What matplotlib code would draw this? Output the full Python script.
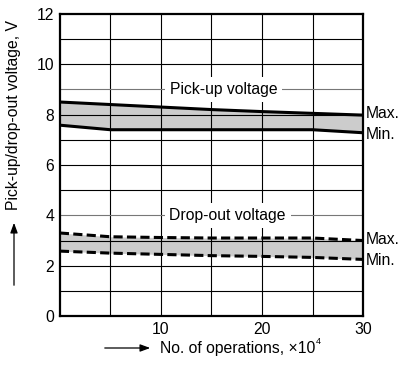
import matplotlib
matplotlib.use("Agg")
import matplotlib.pyplot as plt

plt.rcParams['font.family'] = ['Liberation Sans', 'DejaVu Sans']

ops = [0, 5, 10, 15, 20, 25, 30]
pick_max = [8.5, 8.4, 8.3, 8.2, 8.12, 8.05, 7.98]
pick_min = [7.58, 7.4, 7.4, 7.4, 7.4, 7.4, 7.28]
drop_max = [3.3, 3.15, 3.12, 3.1, 3.1, 3.1, 3.0]
drop_min = [2.58, 2.5, 2.45, 2.4, 2.37, 2.33, 2.25]
xticks = [10, 20, 30]
yticks = [0, 2, 4, 6, 8, 10, 12]

FS = 11.3

fig = plt.figure(figsize=(3.99, 3.65), dpi=100)
ax = fig.add_axes([0.150, 0.134, 0.760, 0.828])
ax.set_xlim(0, 30)
ax.set_ylim(0, 12)

# grid
for gx in range(5, 30, 5):
    ax.axvline(gx, color='black', lw=0.8, zorder=2)
for gy in range(1, 12):
    c = '#777777' if gy in (4, 9) else 'black'
    ax.axhline(gy, color=c, lw=0.8, zorder=2)

ax.fill_between(ops, pick_min, pick_max, color='#cccccc', zorder=1, lw=0)
ax.fill_between(ops, drop_min, drop_max, color='#cccccc', zorder=1, lw=0)
ax.plot(ops, pick_max, color='black', lw=2.2, zorder=3, solid_capstyle='butt')
ax.plot(ops, pick_min, color='black', lw=2.2, zorder=3, solid_capstyle='butt')
ax.plot(ops, drop_max, color='black', lw=2.2, ls=(0, (3.0, 1.4)), zorder=3)
ax.plot(ops, drop_min, color='black', lw=2.2, ls=(0, (3.0, 1.4)), zorder=3)

ax.text(16.2, 9, 'Pick-up voltage', ha='center', va='center', fontsize=FS,
        zorder=4, bbox=dict(facecolor='white', edgecolor='none', pad=3.5))
ax.text(16.6, 4, 'Drop-out voltage', ha='center', va='center', fontsize=FS,
        zorder=4, bbox=dict(facecolor='white', edgecolor='none', pad=3.5))

for y, s in [(pick_max[-1] + 0.05, 'Max.'), (pick_min[-1] - 0.05, 'Min.'),
             (drop_max[-1] + 0.05, 'Max.'), (drop_min[-1] - 0.05, 'Min.')]:
    ax.text(30.25, y, s, ha='left', va='center', fontsize=FS, clip_on=False)

ax.set_xticks(xticks)
ax.set_yticks(yticks)
ax.tick_params(length=0, labelsize=FS, pad=4)
for sp in ax.spines.values():
    sp.set_linewidth(1.6)

# axis labels with arrows
fig.text(14 / 399, 1 - 115 / 365, 'Pick-up/drop-out voltage, V', rotation=90,
         ha='center', va='center', fontsize=FS)
fig.add_artist(matplotlib.patches.FancyArrowPatch(
    (14 / 399, 1 - 288 / 365), (14 / 399, 1 - 220 / 365), transform=fig.transFigure,
    arrowstyle='-|>,head_length=6,head_width=2.2', color='black', lw=0.9, mutation_scale=1))
t = fig.text(160 / 399, 1 - 348 / 365, 'No. of operations, ×10', ha='left', va='center',
             fontsize=FS)
fig.canvas.draw()
bb = t.get_window_extent()
fig.text((bb.x1 + 0.5) / 399, 1 - 342 / 365, '4', ha='left', va='center', fontsize=6.5)
fig.add_artist(matplotlib.patches.FancyArrowPatch(
    (102 / 399, 1 - 348 / 365), (153 / 399, 1 - 348 / 365), transform=fig.transFigure,
    arrowstyle='-|>,head_length=6,head_width=2.2', color='black', lw=0.9, mutation_scale=1))

fig.savefig('out.png', dpi=100)
